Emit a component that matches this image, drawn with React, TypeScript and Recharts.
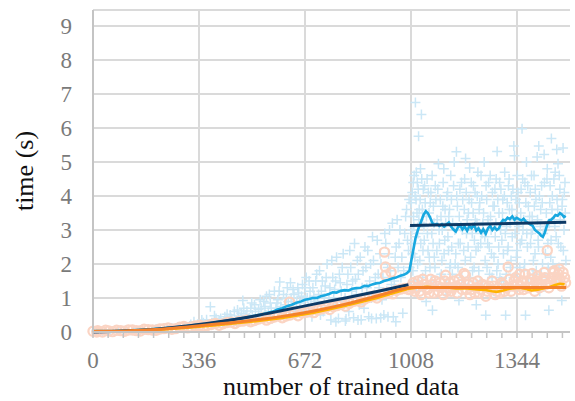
import React from 'react';
import { ComposedChart, XAxis, YAxis, CartesianGrid, Line, Scatter, Label } from 'recharts';

// ---------- data ----------
const xMajorTicks = [0, 336, 672, 1008, 1344];
const xMinorTicks = [0, 48, 96, 144, 192, 240, 288, 336, 384, 432, 480, 528, 576, 624, 672, 720, 768, 816, 864, 912, 960, 1008, 1056, 1104, 1152, 1200, 1248, 1296, 1344, 1392, 1440, 1488];
const yTicks = [0, 1, 2, 3, 4, 5, 6, 7, 8, 9];
const xTitle = 'number of trained data';
const yTitle = 'time (s)';

const plusPoints: [number, number][] = [
  [10,0.02],[30,0.03],[55,0.02],[80,0.04],[105,0.05],[130,0.06],[150,0.05],[175,0.08],[200,0.09],[225,0.1],[250,0.12],[270,0.15],[290,0.14],
  [310,0.22],[320,0.3],[335,0.18],[350,0.27],[360,0.36],[372,0.74],[380,0.25],[390,0.4],[400,0.33],[410,0.22],[418,0.45],[425,0.52],[432,0.3],[440,0.38],[448,0.6],[455,0.28],[462,0.47],[470,0.55],[475,0.93],[480,0.35],[488,0.62],[495,0.42],[500,0.7],
  [315,0.12],[345,0.35],[365,0.2],[385,0.48],[405,0.4],[415,0.3],[435,0.5],[445,0.25],[458,0.65],[468,0.38],[478,0.7],[485,0.5],[492,0.3],[503,0.85],[515,0.6],[522,0.4],[533,0.7],[541,0.9],[548,0.5],[559,1.1],[565,0.7],[572,0.45],[583,0.85],[590,1.2],[595,0.75],
  [505,0.5],[512,0.8],[518,0.36],[525,0.66],[530,0.95],[538,0.45],[545,0.75],[550,1.05],[556,0.58],[562,0.85],[568,0.4],[575,1.2],[580,0.7],[586,0.95],[592,1.47],[598,0.55],[604,1.1],[610,0.8],[616,1.3],[622,0.65],[628,1.0],[634,1.25],[640,0.5],[646,0.9],[652,1.15],[658,0.7],[664,1.4],[670,0.95],[676,1.6],[682,0.75],[688,1.2],[694,0.45],[700,1.05],
  [605,0.6],[613,1.0],[619,0.9],[626,1.45],[631,0.75],[637,1.1],[643,0.55],[649,1.3],[655,0.85],[661,1.05],[667,0.6],[673,1.3],[679,1.0],[685,1.5],[691,0.8],[697,1.3],[703,0.9],[709,1.7],[715,1.1],[721,0.5],[727,1.5],[733,1.0],[739,1.6],[745,0.7],[751,1.3],[757,2.1],[763,1.0],[769,1.5],[775,0.8],[781,1.7],[787,1.2],[793,2.3],[799,1.0],[805,1.4],[811,0.6],[817,1.9],[823,1.5],[829,2.6],[835,1.1],[841,1.7],[847,2.2],[853,1.3],[859,0.7],[865,1.9],[871,2.4],[877,1.5],[883,1.0],[889,2.1],[895,1.6],[901,2.7],[907,1.3],[913,2.0],[919,1.6],[925,2.9],[931,1.2],[937,2.3],[943,1.8],[949,3.2],[955,1.5],[961,2.5],[967,1.9],[973,3.0],[979,2.2],[985,1.8],[991,3.4],[997,2.7],[1002,3.9],
  [706,1.5],[712,0.9],[718,1.8],[724,1.2],[730,0.6],[736,1.35],[742,2.0],[748,1.0],[754,0.35],[760,1.6],[766,1.25],[770,0.3],[772,2.2],[778,0.4],[784,1.45],[790,1.9],[796,0.9],[800,0.32],[802,0.38],[808,1.7],[814,2.4],[820,1.2],[826,0.42],[832,1.55],[838,2.1],[840,0.35],[844,0.8],[850,0.36],[856,1.8],[862,2.5],[868,1.3],[874,0.45],[880,2.0],[883,0.4],[886,2.8],[892,1.1],[898,0.4],[904,1.7],[910,2.3],[912,0.42],[916,0.95],[922,0.5],[928,2.6],[934,1.9],[935,0.45],[940,3.0],[946,1.4],[952,0.45],[958,2.2],[960,0.3],[964,3.3],[970,2.6],[976,1.6],[982,0.55],[988,2.9],[994,3.6],[1000,2.4],[1004,1.9],
  [1010,2.6],[1012,4.1],[1014,1.8],[1016,3.4],[1018,4.6],[1020,2.2],[1022,6.75],[1024,3.9],[1026,1.2],[1028,4.4],[1030,2.9],[1032,5.76],[1034,3.6],[1036,2.1],[1038,4.8],[1041,6.4],[1043,3.2],[1045,1.6],[1047,4.2],[1050,2.7],[1053,3.8],[1056,0.9],[1059,4.5],[1062,2.4],[1065,3.5],[1068,1.9],[1071,4.1],[1074,2.9],[1076,0.64],[1079,3.7],[1082,2.2],[1085,4.3],[1088,1.4],[1091,3.3],[1095,4.95],[1098,2.6],[1101,3.9],[1104,1.7],[1107,3.0],[1110,4.4],[1113,2.3],[1116,3.6],[1119,1.1],[1122,4.0],[1125,2.8],[1128,3.4],[1131,1.9],[1134,4.6],[1137,2.5],[1140,3.2],[1145,5.0],[1148,2.0],[1152,5.3],[1155,3.7],[1158,2.6],[1160,0.93],[1163,4.2],[1166,3.1],[1169,1.6],[1172,3.9],[1175,2.4],[1178,4.5],[1181,5.1],[1184,2.9],[1187,1.3],[1190,3.5],[1194,4.82],[1197,2.2],[1200,3.8],[1203,1.8],[1206,4.3],[1209,2.7],[1212,3.3],[1215,0.8],[1218,4.0],[1221,2.5],[1224,3.6],[1227,1.5],[1230,4.6],[1233,2.9],[1236,3.2],[1240,5.0],[1243,2.1],[1245,0.49],[1248,3.9],[1251,2.6],[1254,4.4],[1257,1.7],[1260,3.4],[1263,2.3],[1266,4.1],[1269,1.2],[1272,3.7],[1275,2.8],[1278,4.5],[1281,5.31],[1284,2.0],[1287,3.5],[1290,1.6],[1293,4.2],[1296,2.7],[1299,3.9],[1302,1.4],[1305,4.7],[1308,0.49],[1311,3.1],[1314,2.4],[1317,4.3],[1320,3.6],[1323,1.9],[1326,4.0],[1329,2.8],[1334,5.47],[1336,5.18],[1339,3.3],[1342,2.2],[1345,4.6],[1348,1.5],[1351,3.8],[1354,2.6],[1357,4.2],[1360,5.98],[1363,3.0],[1366,1.8],[1369,4.4],[1371,0.49],[1374,5.0],[1377,2.5],[1380,3.7],[1383,1.3],[1386,4.1],[1389,2.9],[1392,3.4],[1395,1.7],[1398,4.6],[1401,2.3],[1404,3.9],[1408,5.15],[1411,2.7],[1413,5.47],[1416,1.2],[1419,3.6],[1422,4.3],[1425,2.0],[1430,5.22],[1433,3.1],[1436,1.6],[1439,4.5],[1442,2.6],[1445,0.64],[1448,3.8],[1451,2.2],[1453,5.69],[1456,4.0],[1459,1.5],[1462,3.3],[1465,4.7],[1468,2.8],[1470,5.37],[1473,3.6],[1474,4.95],[1477,1.9],[1480,4.2],[1483,2.5],[1486,0.93],[1488,3.9],[1490,5.41],[1493,3.0],[1496,4.4],[1499,2.1],
  [1009,3.8],[1011,3.0],[1013,2.3],[1015,4.4],[1017,3.1],[1019,1.5],[1021,4.0],[1023,2.8],[1025,4.7],[1027,3.5],[1029,2.0],[1031,4.2],[1033,3.3],[1035,1.4],[1037,3.9],[1039,2.6],[1042,4.5],[1044,3.6],[1046,2.4],[1049,3.1],[1051,4.3],[1054,1.8],[1057,3.4],[1060,2.9],[1063,4.1],[1066,2.2],[1069,3.8],[1072,1.5],[1075,4.6],[1078,2.6],[1081,3.2],[1084,1.9],[1087,3.9],[1090,2.4],[1093,4.2],[1097,3.0],[1100,1.6],[1103,3.4],[1106,2.1],[1109,3.7],[1112,4.8],[1115,2.7],[1118,3.2],[1121,1.4],[1124,4.1],[1127,2.4],[1130,3.6],[1133,2.0],[1136,3.9],[1139,1.7],[1143,4.3],[1147,3.0],[1150,2.3],[1153,4.0],[1157,1.9],[1161,3.4],[1164,2.6],[1168,4.4],[1171,3.0],[1174,1.4],[1177,3.6],[1180,2.1],[1183,4.1],[1186,3.3],[1189,2.5],[1192,3.9],[1196,1.6],[1199,4.4],[1202,2.9],[1205,3.5],[1208,1.9],[1211,4.1],[1214,2.4],[1217,3.2],[1220,4.7],[1223,1.8],[1226,3.8],[1229,2.6],[1232,4.0],[1235,1.3],[1238,3.5],[1242,2.8],[1246,4.3],[1249,1.9],[1252,3.3],[1256,2.5],[1259,4.6],[1262,3.0],[1265,1.6],[1268,3.7],[1271,2.2],[1274,4.2],[1277,3.2],[1280,1.8],[1283,3.9],[1286,2.5],[1289,4.4],[1292,3.0],[1295,1.5],[1298,3.5],[1301,2.3],[1304,4.0],[1307,2.9],[1310,1.7],[1313,3.8],[1316,2.5],[1319,4.5],[1322,3.2],[1325,2.1],[1328,3.6],[1331,4.2],[1333,1.6],[1338,2.9],[1341,3.9],[1344,2.4],[1347,4.1],[1350,3.1],[1353,1.9],[1356,3.5],[1359,2.7],[1362,4.5],[1365,3.3],[1368,2.0],[1372,3.8],[1375,2.9],[1378,4.3],[1381,1.6],[1384,3.4],[1387,2.6],[1390,4.6],[1393,3.0],[1396,2.1],[1399,3.7],[1402,4.2],[1405,1.8],[1409,3.3],[1412,2.5],[1415,4.0],[1418,3.1],[1421,1.7],[1424,3.8],[1427,2.9],[1431,4.4],[1434,2.3],[1437,3.5],[1440,4.8],[1443,1.9],[1446,3.2],[1449,4.3],[1452,2.7],[1455,3.6],[1458,2.0],[1461,4.5],[1464,3.1],[1467,1.7],[1471,3.9],[1475,2.6],[1478,4.6],[1481,3.3],[1484,1.6],[1487,3.7],[1491,2.4],[1494,4.1],[1497,3.5],
];

const circlePoints: [number, number][] = [
  [0,0.02],[15,0.04],[30,0.0],[50,0.03],[75,0.05],[100,0.02],[125,0.06],[150,0.03],[175,0.07],[200,0.05],[225,0.1],[250,0.08],[275,0.14],[300,0.12],[325,0.18],[350,0.16],[375,0.22],[400,0.2],[425,0.28],[450,0.25],[475,0.32],[500,0.3],[525,0.38],[550,0.35],[575,0.44],[600,0.42],[623,0.88],[625,0.5],[650,0.48],[675,0.58],[700,0.57],[725,0.68],[750,0.66],[775,0.78],[800,0.76],[825,0.9],[850,0.88],[875,1.02],[900,1.0],[924,2.35],[927,1.91],[927,1.67],[925,1.14],[945,1.76],[950,1.12],[975,1.26],[1000,1.25],
  [12,0.0],[40,0.05],[62,0.01],[88,0.04],[112,0.06],[138,0.04],[162,0.08],[188,0.06],[212,0.09],[238,0.12],[262,0.1],[288,0.16],[312,0.15],[338,0.2],[362,0.19],[388,0.25],[412,0.24],[438,0.29],[462,0.31],[488,0.35],[512,0.34],[538,0.42],[562,0.4],[588,0.48],[612,0.47],[638,0.55],[662,0.56],[688,0.62],[712,0.65],[738,0.72],[762,0.74],[788,0.82],[812,0.84],[838,0.92],[862,0.97],[888,1.05],[912,1.1],[938,1.16],[962,1.22],[988,1.28],
  [1010,1.35],[1020,1.2],[1030,1.5],[1040,1.1],[1050,1.4],[1060,1.25],[1070,1.55],[1080,1.15],[1090,1.35],[1100,1.45],[1110,1.1],[1118,1.67],[1125,1.3],[1135,1.2],[1145,1.5],[1155,1.15],[1165,1.4],[1176,1.72],[1180,1.67],[1185,1.25],[1195,1.1],[1205,1.45],[1215,1.3],[1225,1.15],[1235,1.4],[1245,1.05],[1255,1.35],[1265,1.5],[1275,1.1],[1285,1.3],[1295,1.45],[1305,1.2],[1316,1.91],[1320,1.55],[1330,1.35],[1340,1.6],[1350,1.25],[1360,1.5],[1370,1.7],[1380,1.3],[1390,1.55],[1400,1.2],[1410,1.65],[1420,1.4],[1430,1.75],[1440,2.4],[1445,1.3],[1455,1.6],[1465,1.45],[1475,1.7],[1485,1.35],[1495,1.6],
  [1005,1.25],[1015,1.45],[1025,1.3],[1035,1.2],[1045,1.55],[1055,1.3],[1065,1.15],[1075,1.4],[1085,1.5],[1095,1.2],[1105,1.3],[1115,1.5],[1120,1.2],[1130,1.45],[1140,1.3],[1150,1.35],[1160,1.55],[1170,1.25],[1190,1.4],[1200,1.25],[1210,1.15],[1220,1.5],[1230,1.25],[1240,1.35],[1250,1.2],[1260,1.25],[1270,1.35],[1280,1.2],[1290,1.15],[1300,1.4],[1310,1.3],[1325,1.2],[1335,1.5],[1345,1.4],[1355,1.35],[1365,1.25],[1375,1.5],[1385,1.45],[1395,1.35],[1405,1.5],[1415,1.3],[1425,1.55],[1435,1.4],[1450,1.45],[1460,1.75],[1470,1.5],[1480,1.55],[1490,1.75],[1498,1.45],[1352,1.7],[1392,1.72],[1462,1.8],[1478,1.85],[1432,1.6],
];

const cyanAvg: [number, number][] = [
  [0,0.03],[60,0.03],[120,0.05],[180,0.08],[240,0.12],[300,0.18],[360,0.24],[420,0.33],[480,0.42],[520,0.49],[550,0.55],[570,0.6],[585,0.66],[600,0.7],[615,0.76],[630,0.8],[645,0.86],[660,0.9],[672,0.95],[685,0.97],[697,1.0],[710,1.0],[722,1.05],[735,1.08],[748,1.12],[760,1.17],[772,1.16],[785,1.21],[798,1.23],[810,1.22],[822,1.27],[835,1.29],[848,1.3],[860,1.36],[872,1.35],[885,1.4],[897,1.43],[910,1.45],[922,1.5],[935,1.53],[948,1.57],[960,1.6],[972,1.65],[985,1.68],[995,1.73],[1003,1.8],[1008,2.05],[1015,2.4],[1022,2.75],[1030,3.0],[1040,3.25],[1048,3.45],[1055,3.55],[1061,3.5],[1068,3.38],[1075,3.22],[1082,3.15],[1090,3.18],[1098,3.12],[1106,3.17],[1113,3.1],[1120,3.16],[1128,3.22],[1135,3.1],[1142,3.02],[1150,2.95],[1157,3.08],[1164,3.14],[1171,3.02],[1178,3.1],[1186,2.98],[1193,3.12],[1200,3.05],[1208,3.15],[1215,2.98],[1222,3.05],[1230,2.92],[1237,3.02],[1245,2.89],[1252,3.05],[1259,3.12],[1266,3.0],[1273,3.08],[1280,3.0],[1287,3.05],[1294,3.22],[1300,3.3],[1307,3.28],[1314,3.36],[1321,3.32],[1329,3.4],[1336,3.3],[1343,3.36],[1350,3.32],[1358,3.28],[1365,3.33],[1372,3.25],[1380,3.2],[1387,3.16],[1394,3.12],[1401,3.0],[1408,2.95],[1415,2.9],[1420,2.84],[1426,2.8],[1432,2.92],[1438,3.1],[1445,3.28],[1452,3.3],[1459,3.36],[1466,3.44],[1473,3.42],[1480,3.5],[1487,3.45],[1493,3.38],[1498,3.42],
];

const navyTrendA: [number, number][] = [
  [0,0.0],[100,0.03],[200,0.08],[300,0.18],[400,0.3],[500,0.45],[600,0.63],[700,0.82],[800,1.0],[900,1.19],[1000,1.39],
];
const navyTrendB: [number, number][] = [
  [1005,3.13],[1500,3.23],
];

const goldAvg: [number, number][] = [
  [0,0.02],[100,0.02],[200,0.06],[300,0.13],[400,0.21],[500,0.3],[600,0.41],[700,0.57],[800,0.77],[900,1.0],[950,1.14],[1000,1.27],[1030,1.31],[1060,1.33],[1090,1.3],[1120,1.31],[1150,1.28],[1180,1.29],[1210,1.26],[1240,1.24],[1265,1.2],[1280,1.18],[1300,1.22],[1320,1.27],[1350,1.3],[1370,1.27],[1390,1.22],[1410,1.24],[1430,1.29],[1450,1.33],[1465,1.38],[1480,1.42],[1495,1.4],
];

const orangeTrend: [number, number][] = [
  [0,0.02],[100,0.03],[200,0.07],[300,0.15],[400,0.24],[500,0.34],[600,0.46],[700,0.62],[800,0.82],[900,1.06],[1000,1.3],[1008,1.31],[1500,1.31],
];

// ---------- helpers ----------
const toRows = (pts: [number, number][]) => pts.map(([x, y]) => ({ x, y }));

const FONT = "'Liberation Serif', 'Times New Roman', serif";
const W = 575;
const H = 401;
const MARGIN = { top: 10, right: 5, bottom: 0, left: 0 };
const Y_AXIS_W = 93;
const X_AXIS_H = 69;
const PLOT_BOTTOM = H - MARGIN.bottom - X_AXIS_H;
const PLOT_TOP = MARGIN.top;

const PlusShape = (props: any) => {
  const { cx, cy } = props;
  if (cx == null || cy == null) return null;
  return <path d={`M${cx - 5},${cy}h10M${cx},${cy - 5}v10`} stroke="#cbe7f6" strokeWidth={1.5} fill="none" />;
};

const CircleShape = (props: any) => {
  const { cx, cy } = props;
  if (cx == null || cy == null) return null;
  return <circle cx={cx} cy={cy} r={4.6} stroke="#fbd4c3" strokeWidth={2.2} fill="none" />;
};

const XTick = (props: any) => {
  const { x, payload } = props;
  if (!xMajorTicks.includes(payload.value)) return null;
  return (
    <text x={x} y={PLOT_BOTTOM + 36} textAnchor="middle" fontFamily={FONT} fontSize={23} fill="#7a7a7a">
      {payload.value}
    </text>
  );
};

const YTick = (props: any) => {
  const { y, payload } = props;
  return (
    <text x={Y_AXIS_W - 21} y={y + 8} textAnchor="end" fontFamily={FONT} fontSize={23} fill="#7a7a7a">
      {payload.value}
    </text>
  );
};

const XTitle = () => (
  <text x={341} y={H - 6} textAnchor="middle" fontFamily={FONT} fontSize={26} fill="#111">
    {xTitle}
  </text>
);

const YTitle = () => {
  const cx = 33;
  const cy = (PLOT_TOP + PLOT_BOTTOM) / 2;
  return (
    <text x={cx} y={cy} transform={`rotate(-90, ${cx}, ${cy})`} textAnchor="middle" fontFamily={FONT} fontSize={26} fill="#111">
      {yTitle}
    </text>
  );
};

export default function App() {
  return (
    <div style={{ position: 'absolute', left: 0, top: 0, width: W, height: H, background: '#fff' }}>
      <ComposedChart width={W} height={H} margin={MARGIN}>
        <CartesianGrid
          stroke="#dadada"
          strokeWidth={2}
          verticalCoordinatesGenerator={(p: any) => {
            const xa = p.xAxis;
            if (xa && typeof xa.scale === 'function') return xMajorTicks.map((t) => xa.scale(t));
            return xMajorTicks.map((t) => p.offset.left + (t / 1512) * p.offset.width);
          }}
        />
        <XAxis
          type="number"
          dataKey="x"
          domain={[0, 1512]}
          ticks={xMinorTicks}
          interval={0}
          height={X_AXIS_H}
          tick={<XTick />}
          tickSize={6}
          tickLine={{ stroke: '#c4c4c4', strokeWidth: 1.5 }}
          axisLine={{ stroke: '#c4c4c4', strokeWidth: 2 }}
          label={<Label content={<XTitle />} />}
        />
        <YAxis
          type="number"
          dataKey="y"
          domain={[0, 9.47]}
          ticks={yTicks}
          interval={0}
          width={Y_AXIS_W}
          tick={<YTick />}
          tickLine={false}
          axisLine={{ stroke: '#c4c4c4', strokeWidth: 2 }}
          label={<Label content={<YTitle />} />}
        />
        <Scatter data={toRows(plusPoints)} dataKey="y" shape={PlusShape} isAnimationActive={false} zIndex={300} />
        <Scatter data={toRows(circlePoints)} dataKey="y" shape={CircleShape} isAnimationActive={false} zIndex={310} />
        <Line data={toRows(cyanAvg)} dataKey="y" type="linear" stroke="#18a8e0" strokeWidth={2.6} dot={false} activeDot={false} isAnimationActive={false} zIndex={400} />
        <Line data={toRows(navyTrendA)} dataKey="y" type="monotone" stroke="#0d3a66" strokeWidth={3} dot={false} activeDot={false} isAnimationActive={false} zIndex={410} />
        <Line data={toRows(navyTrendB)} dataKey="y" type="linear" stroke="#0d3a66" strokeWidth={3} dot={false} activeDot={false} isAnimationActive={false} zIndex={411} />
        <Line data={toRows(goldAvg)} dataKey="y" type="linear" stroke="#ffb300" strokeWidth={2.6} dot={false} activeDot={false} isAnimationActive={false} zIndex={420} />
        <Line data={toRows(orangeTrend)} dataKey="y" type="monotone" stroke="#f4822c" strokeWidth={3} dot={false} activeDot={false} isAnimationActive={false} zIndex={430} />
      </ComposedChart>
    </div>
  );
}
